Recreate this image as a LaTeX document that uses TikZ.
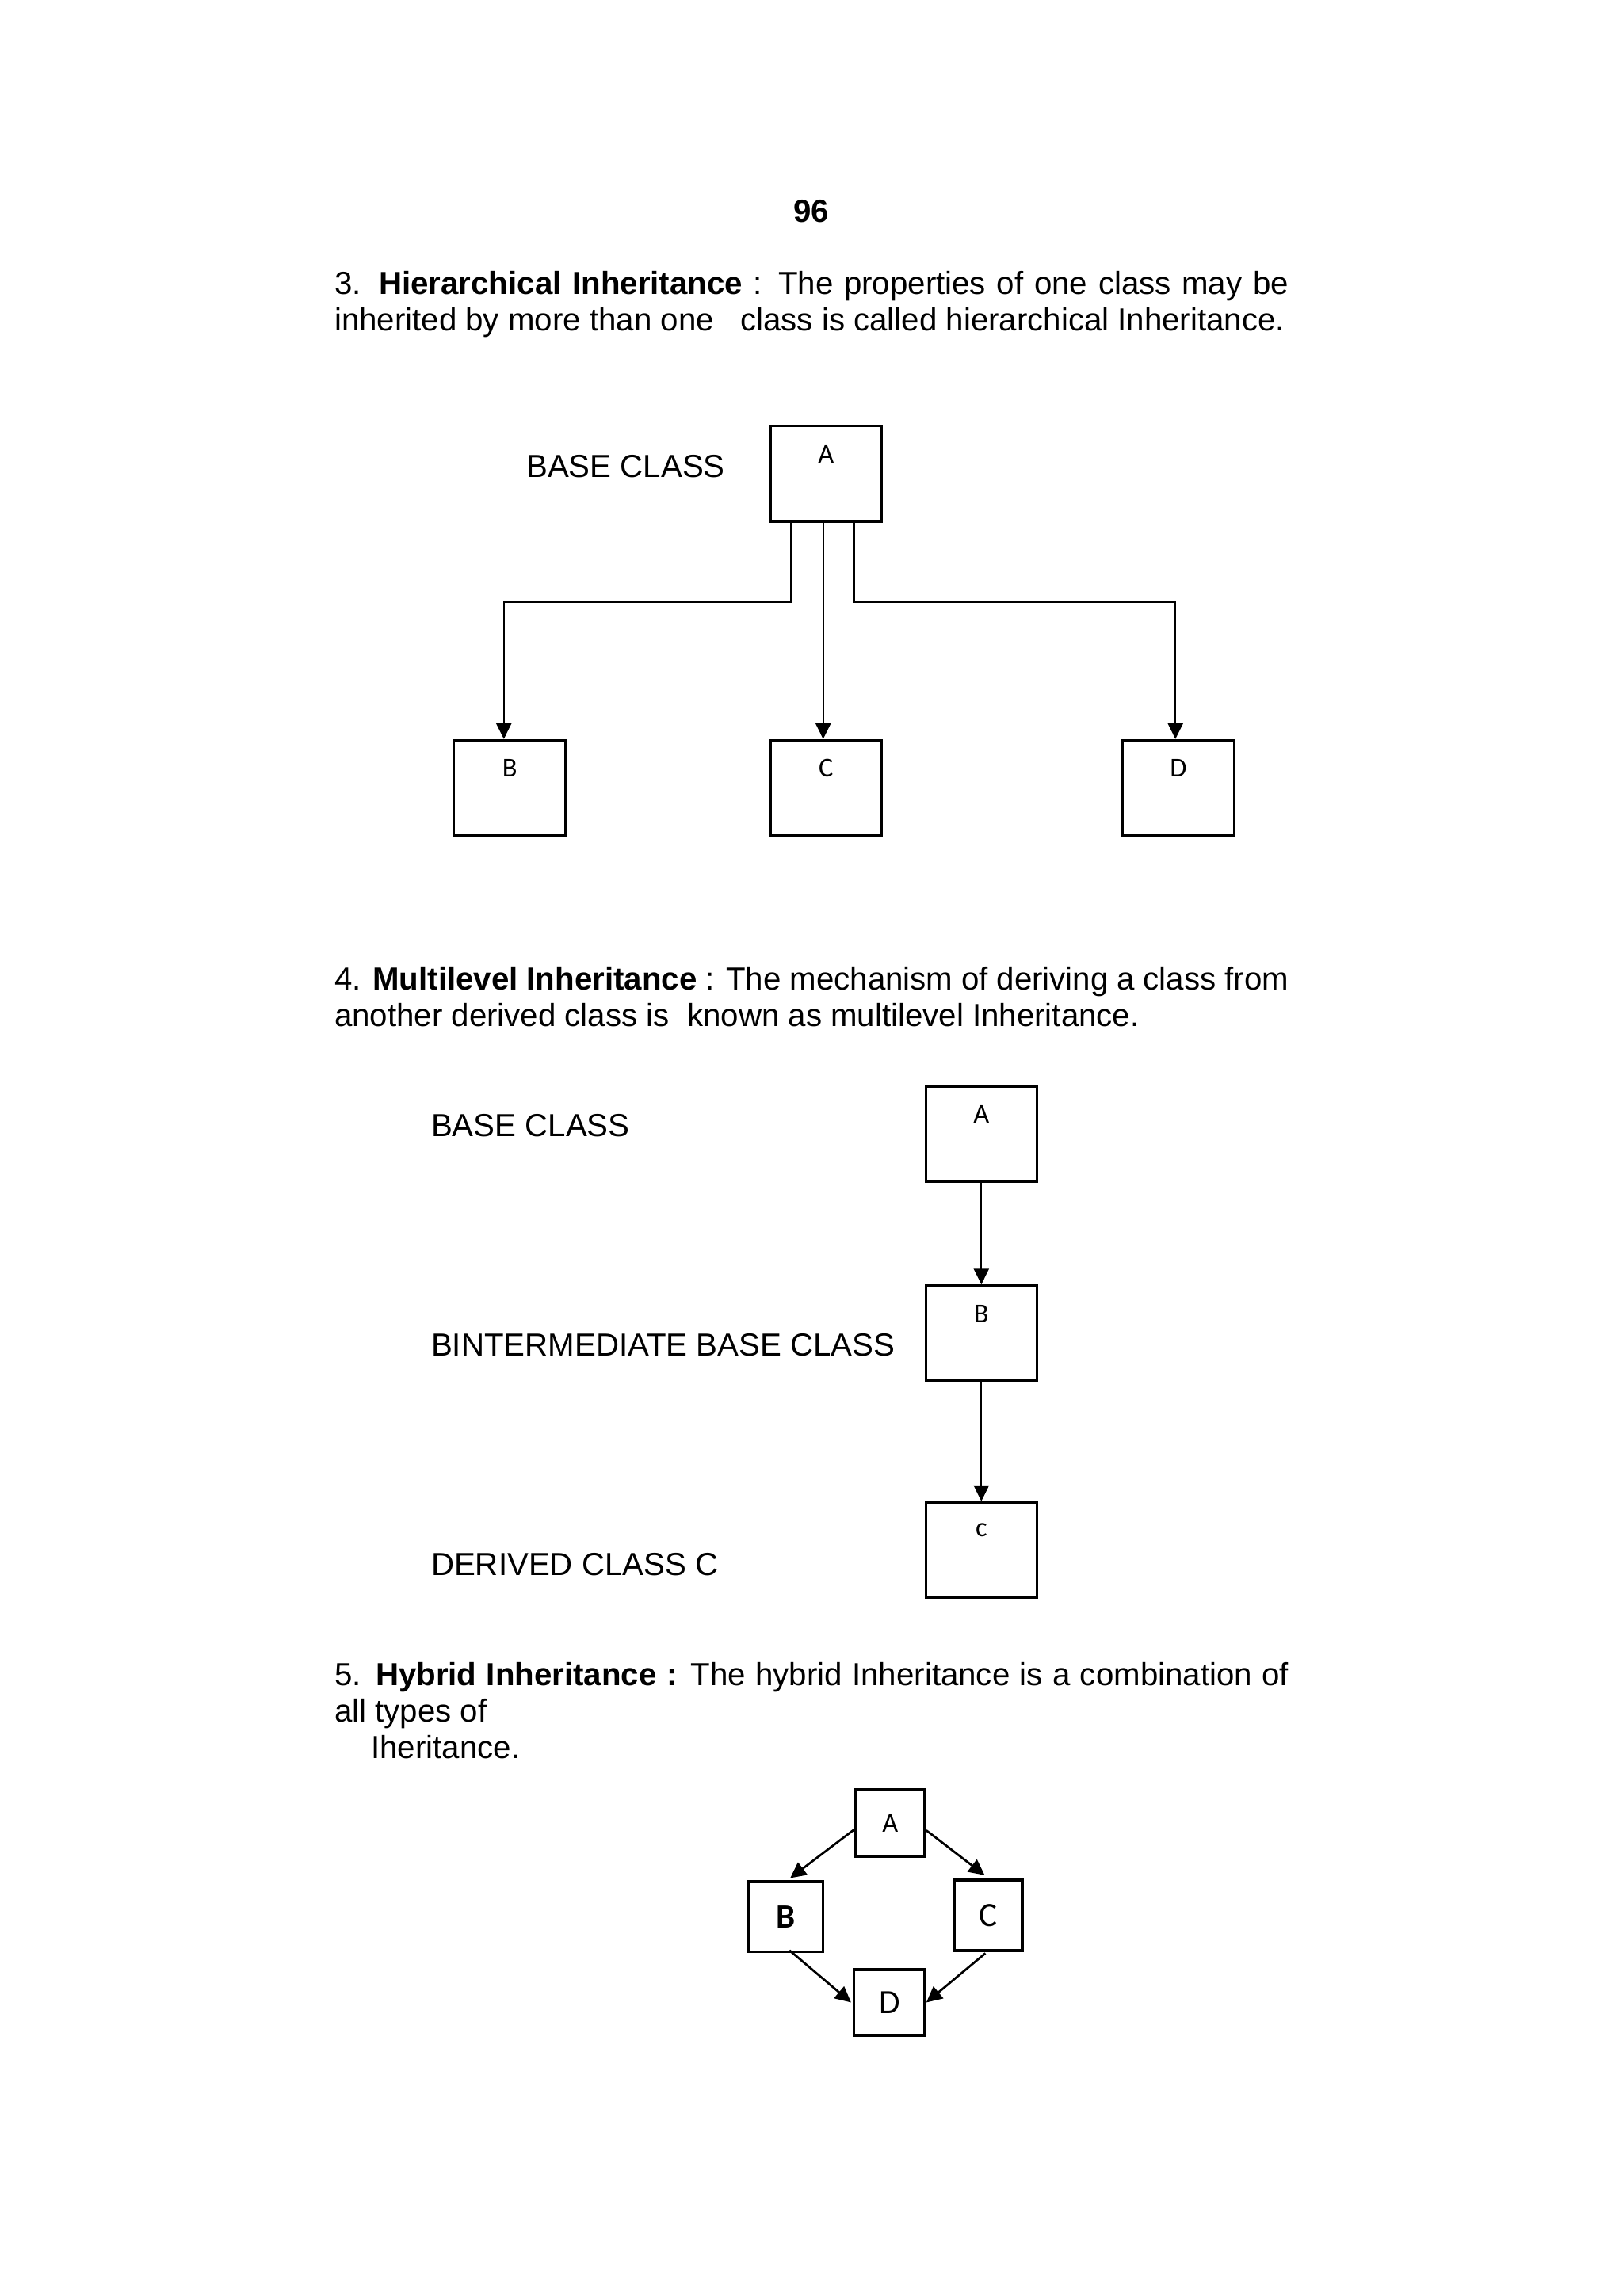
\documentclass[tikz,border=0pt]{standalone}
\usepackage{fontspec}
\setmainfont{Liberation Sans}
\newfontfamily\boxfont{Carlito}
\usetikzlibrary{arrows.meta,calc,positioning}
\newcommand{\px}{0.5373pt}

\begin{document}
\begin{tikzpicture}[x=\px,y=-\px,
    cls/.style={draw, line width=0.9pt, minimum width=76*\px, minimum height=65*\px, inner sep=0pt},
    clsName/.style={font=\boxfont\fontsize{10}{12}\selectfont, inner sep=0pt},
    hyb/.style={draw, line width=1pt, inner sep=0pt},
    conn/.style={line width=0.6pt, -{Triangle[length=5.8pt,width=5.6pt]}},
    txt/.style={anchor=base west, inner sep=0pt, font=\fontsize{11.7}{14}\selectfont}]
  \useasboundingbox (0,0) rectangle (1108,1568);

  % page number
  \node[txt, anchor=base, font=\bfseries\fontsize{11.7}{14}\selectfont] (pgno) at (554,152) {96};

  % hierarchical
  \node[txt] (p3a) at (228,201) {\makebox[350pt][s]{3. \textbf{Hierarchical Inheritance} : The properties of one class may be}};
  \node[txt] (p3b) at (228,226) {inherited by more than one \ \ class is called hierarchical Inheritance.};
  \node[txt] (hBase) at (359,326) {BASE CLASS};
  \node[cls, label={[clsName,name=hAt,anchor=center,yshift=-20*\px]north:A}] (hA) at (564,323.5) {};
  \node[cls, label={[clsName,name=hBt,anchor=center,yshift=-20*\px]north:B}] (hB) at (348,538) {};
  \node[cls, label={[clsName,name=hCt,anchor=center,yshift=-20*\px]north:C}] (hC) at (564,538) {};
  \node[cls, label={[clsName,name=hDt,anchor=center,yshift=-20*\px]north:D}] (hD) at (804.5,538) {};
  \coordinate (hJ) at (0,411);
  \draw[conn] ($(hA.south)+(-24,0)$) coordinate (aL) -- (aL |- hJ) -| ($(hB.north)+(-4,0)$);
  \draw[conn] ($(hA.south)+(-2,0)$) -- ($(hC.north)+(-2,0)$);
  \draw[conn] ($(hA.south)+(19,0)$) coordinate (aR) -- (aR |- hJ) -| ($(hD.north)+(-2,0)$);

  % multilevel
  \node[txt] (p4a) at (228,676) {\makebox[350pt][s]{4. \textbf{Multilevel Inheritance} : The mechanism of deriving a class from}};
  \node[txt] (p4b) at (228,701) {another derived class is \ known as multilevel Inheritance.};
  \node[txt] (mBase) at (294,776) {BASE CLASS};
  \node[txt] (mInter) at (294,926) {BINTERMEDIATE BASE CLASS};
  \node[txt] (mDer) at (294,1076) {DERIVED CLASS C};
  \node[cls, label={[clsName,name=mAt,anchor=center,yshift=-20*\px]north:A}] (mA) at (670,774.5) {};
  \node[cls, label={[clsName,name=mBt,anchor=center,yshift=-20*\px]north:B}] (mB) at (670,910.5) {};
  \node[cls, label={[clsName,name=mCt,anchor=center,yshift=-20*\px]north:c}] (mC) at (670,1058.5) {};
  \draw[conn] (mA) -- (mB);
  \draw[conn] (mB) -- (mC);

  % hybrid
  \node[txt] (p5a) at (228,1151) {\makebox[350pt][s]{5. \textbf{Hybrid Inheritance :} The hybrid Inheritance is a combination of}};
  \node[txt] (p5b) at (228,1176) {all types of};
  \node[txt] (p5c) at (253,1201) {Iheritance.};
  \node[hyb, minimum width=47.5*\px, minimum height=46*\px, font=\boxfont\fontsize{10}{12}\selectfont] (yA) at (607.75,1245) {A};
  \node[hyb, minimum width=51*\px, minimum height=48*\px, font=\boxfont\bfseries\fontsize{12.5}{14}\selectfont] (yB) at (536.5,1309) {B};
  \node[hyb, minimum width=46.5*\px, minimum height=48*\px, font=\boxfont\fontsize{12.5}{14}\selectfont] (yC) at (674.75,1308) {C};
  \node[hyb, minimum width=48.5*\px, minimum height=45*\px, font=\boxfont\fontsize{12.5}{14}\selectfont] (yD) at (607.25,1367.5) {D};
  \draw[conn, line width=0.8pt] ($(yA.west)+(0,4.5)$) -- ($(yB.north)+(3,-1.5)$);
  \draw[conn, line width=0.8pt] ($(yA.east)+(0,5)$) -- ($(yC.north)+(-2.5,-2.5)$);
  \draw[conn, line width=0.8pt] ($(yB.south)+(2.5,-2)$) -- ($(yD.west)+(-1,0)$);
  \draw[conn, line width=0.8pt] ($(yC.south)+(-2,1)$) -- (yD.east);
\end{tikzpicture}
\end{document}
